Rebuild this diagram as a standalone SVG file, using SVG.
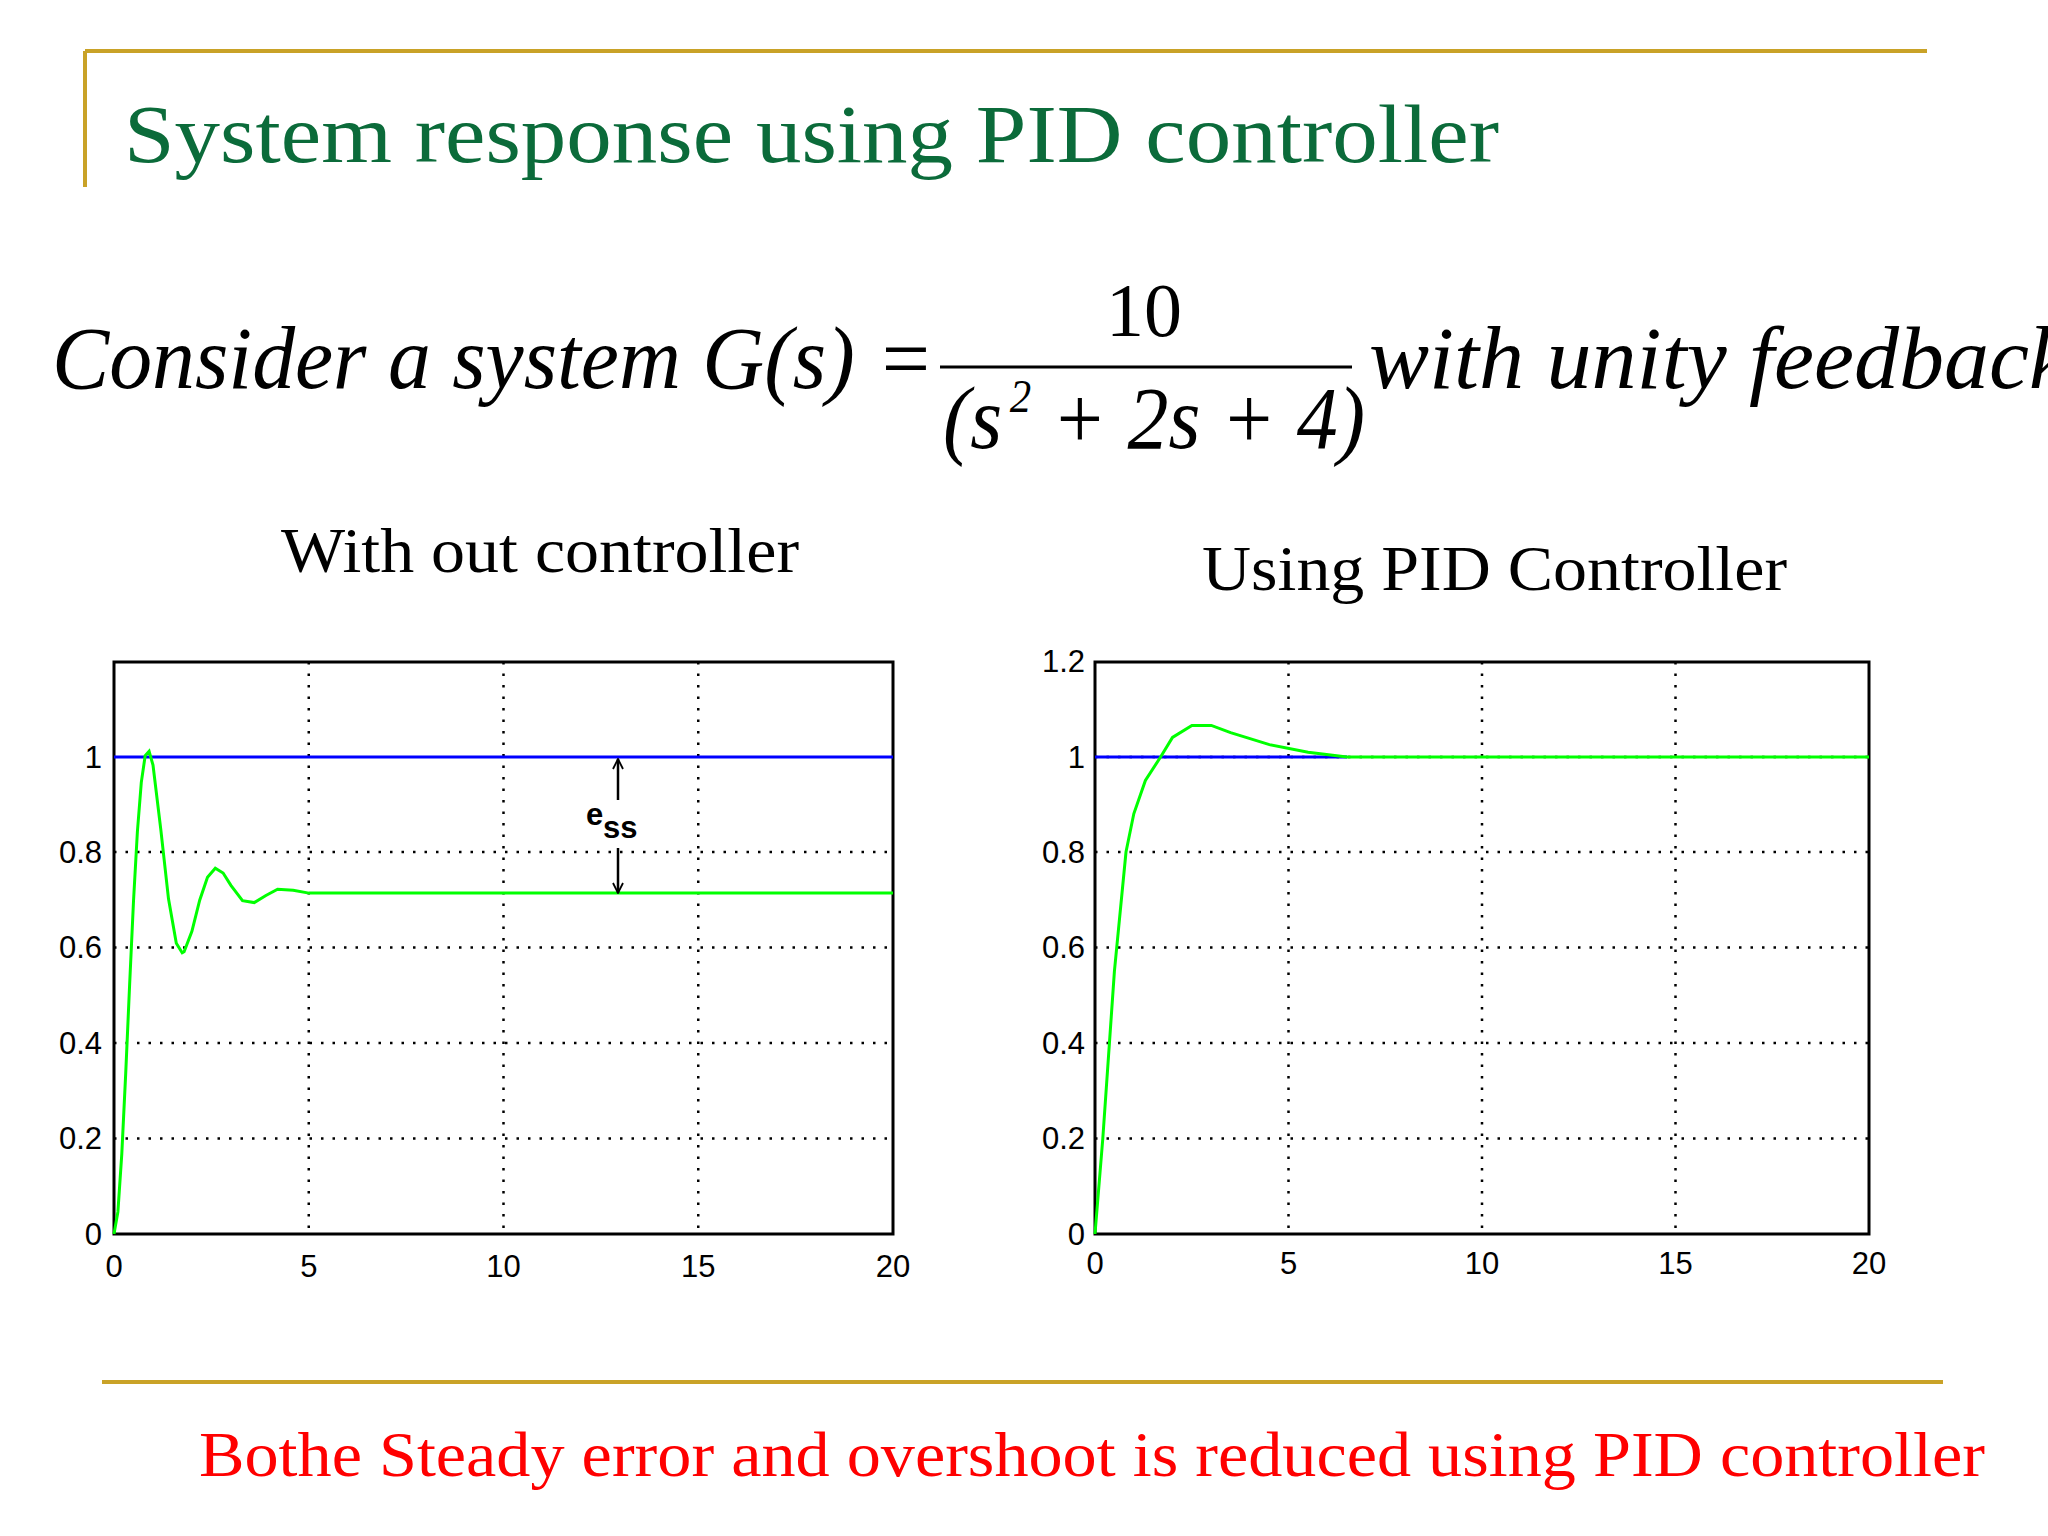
<svg xmlns="http://www.w3.org/2000/svg" width="2048" height="1536" viewBox="0 0 2048 1536">
<style>
.gold{stroke:#C9A227;stroke-width:4;fill:none}
.frame{fill:#fff;stroke:#000;stroke-width:3}
.grid{stroke:#000;stroke-width:2.5;stroke-dasharray:2.5 9;fill:none}
.blue{stroke:#0000FF;stroke-width:3;fill:none}
.green{stroke:#00FF00;stroke-width:3;fill:none}
.tick{font-family:"Liberation Sans",Arial,sans-serif;font-size:31px;fill:#000}
.serif{font-family:"Liberation Serif","Times New Roman",serif}
.eq{font-family:"Liberation Serif","Times New Roman",serif;font-style:italic;font-size:88px;fill:#000}
</style>
<defs>
<marker id="open" viewBox="0 0 12 12" refX="11" refY="6" markerWidth="12" markerHeight="12" orient="auto" markerUnits="userSpaceOnUse">
<path d="M1,1 L11,6 L1,11" fill="none" stroke="#000" stroke-width="1.8"/>
</marker>
</defs>
<rect width="2048" height="1536" fill="#fff"/>
<g id="decor">
<path class="gold" d="M85,51 H1927 M85,51 V187"/>
<path class="gold" d="M102,1382 H1943"/>
</g>
<g id="title"><text x="124" y="162" class="serif" font-size="82" fill="#0B6B3A" textLength="1375" lengthAdjust="spacingAndGlyphs">System response using PID controller</text></g>
<g id="equation">
<text x="52" y="388" class="eq" textLength="882" lengthAdjust="spacingAndGlyphs">Consider a system G(s) =</text>
<text x="1144" y="336" class="serif" font-size="76" text-anchor="middle">10</text>
<line x1="940" y1="367" x2="1352" y2="367" stroke="#000" stroke-width="3"/>
<text x="943" y="448" class="eq" font-style="normal" textLength="422" lengthAdjust="spacingAndGlyphs">(<tspan font-style="italic">s</tspan><tspan dx="8" dy="-36" font-size="46">2</tspan><tspan dy="36"> + 2</tspan><tspan font-style="italic">s</tspan> + 4)</text>
<text x="1369" y="388" class="eq" textLength="700" lengthAdjust="spacingAndGlyphs">with unity  feedback</text>
</g>
<g id="label-left"><text x="281" y="572" class="serif" font-size="64" textLength="518" lengthAdjust="spacingAndGlyphs">With out controller</text></g>
<g id="label-right"><text x="1202" y="590" class="serif" font-size="64" textLength="585" lengthAdjust="spacingAndGlyphs">Using PID Controller</text></g>
<g id="plot-left">
<rect class="frame" x="114" y="662" width="779" height="572"/>
<path class="grid" d="M308.75,662V1234 M503.5,662V1234 M698.25,662V1234 M114,1138.5H893 M114,1043H893 M114,947.5H893 M114,852H893"/>
<line class="blue" x1="114" y1="757" x2="893" y2="757"/>
<polyline class="green" points="114,1234 117.9,1211.9 121.8,1153.8 125.7,1073.6 129.6,985.2 133.5,901.2 137.4,831.5 141.3,782.3 145.2,755.6 149.1,751.2 153,765.1 160.7,828.6 168.5,898.8 176.3,943.2 182.2,952.8 184.1,951.8 191.9,931.3 199.7,900.2 207.5,877.3 215.3,868.2 223.1,873 230.9,885.4 242.5,900.7 254.2,902.6 265.9,895.5 277.6,889.2 293.2,890.2 308.8,893.1 893,893.1"/>
<g class="tick" text-anchor="end">
<text x="102" y="1245">0</text><text x="102" y="1149">0.2</text><text x="102" y="1054">0.4</text><text x="102" y="958">0.6</text><text x="102" y="863">0.8</text><text x="102" y="768">1</text>
</g>
<g class="tick" text-anchor="middle">
<text x="114" y="1277">0</text><text x="308.75" y="1277">5</text><text x="503.5" y="1277">10</text><text x="698.25" y="1277">15</text><text x="893" y="1277">20</text>
</g>
</g>
<g id="ess">
<line x1="618" y1="800" x2="618" y2="759" stroke="#000" stroke-width="2.5" marker-end="url(#open)"/>
<line x1="618" y1="848" x2="618" y2="893" stroke="#000" stroke-width="2.5" marker-end="url(#open)"/>
<text x="586" y="825" class="tick" font-size="32" font-weight="bold">e</text>
<text x="603" y="838" class="tick" font-size="32" font-weight="bold">ss</text>
</g>
<g id="plot-right">
<rect class="frame" x="1095" y="662" width="774" height="572"/>
<path class="grid" d="M1288.5,662V1234 M1482,662V1234 M1675.5,662V1234 M1095,1138.5H1869 M1095,1043H1869 M1095,947.5H1869 M1095,852H1869 M1095,757H1869"/>
<line class="blue" x1="1095" y1="757" x2="1347" y2="757"/>
<polyline class="green" points="1095,1234 1102.8,1138.5 1114.4,971.4 1126,852 1133.8,813.8 1145.4,780.4 1160.9,756.5 1172.5,737.4 1191.9,725.4 1211.3,725.4 1230.6,732.6 1269.4,744.6 1308.1,752.2 1346.9,757 1869,757"/>
<g class="tick" text-anchor="end">
<text x="1085" y="1245">0</text><text x="1085" y="1149">0.2</text><text x="1085" y="1054">0.4</text><text x="1085" y="958">0.6</text><text x="1085" y="863">0.8</text><text x="1085" y="768">1</text><text x="1085" y="672">1.2</text>
</g>
<g class="tick" text-anchor="middle">
<text x="1095" y="1274">0</text><text x="1288.5" y="1274">5</text><text x="1482" y="1274">10</text><text x="1675.5" y="1274">15</text><text x="1869" y="1274">20</text>
</g>
</g>
<g id="conclusion"><text x="199" y="1476" class="serif" font-size="64" fill="#FF0000" textLength="1786" lengthAdjust="spacingAndGlyphs">Bothe Steady error and overshoot is reduced using PID controller</text></g>
</svg>
